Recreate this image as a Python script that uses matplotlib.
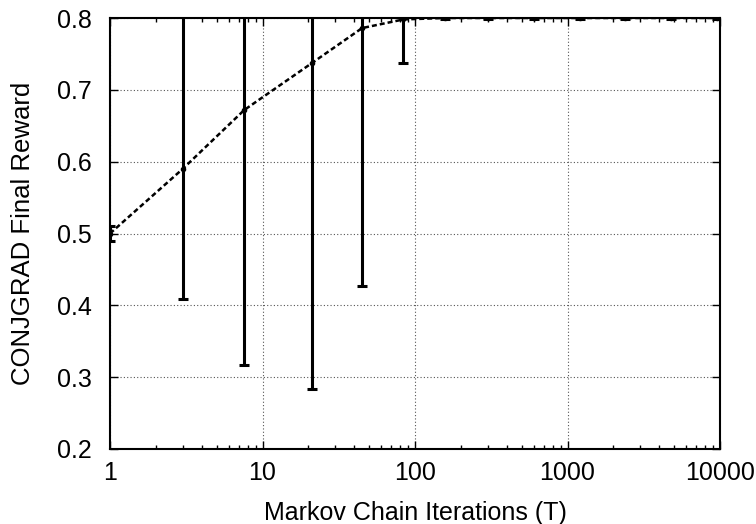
import matplotlib
matplotlib.use("Agg")
import matplotlib.pyplot as plt
from matplotlib.ticker import LogLocator, NullFormatter

plt.rcParams['font.family'] = ['Liberation Sans', 'DejaVu Sans']

iterations = [1, 3, 7.6, 21, 45, 84, 157, 303, 606, 1210, 2400, 4800, 9600]
reward_mean = [0.500, 0.590, 0.672, 0.737, 0.786, 0.798, 0.800, 0.800, 0.800, 0.800, 0.800, 0.800, 0.800]
reward_low = [0.490, 0.409, 0.317, 0.283, 0.427, 0.738, 0.798, 0.798, 0.798, 0.798, 0.798, 0.798, 0.798]
reward_high = [0.510, 0.900, 0.900, 0.900, 0.900, 0.810, 0.802, 0.802, 0.802, 0.802, 0.802, 0.802, 0.802]

yerr = [[m - lo for m, lo in zip(reward_mean, reward_low)],
        [hi - m for m, hi in zip(reward_mean, reward_high)]]

fig = plt.figure(figsize=(7.56, 5.24), dpi=100)
ax = fig.add_axes([110 / 756, 1 - 449 / 524, 610 / 756, 431 / 524])

ax.plot(iterations, reward_mean, color='black', linestyle=(0, (2.0, 1.2)), linewidth=1.8, zorder=3)
ax.errorbar(iterations, reward_mean, yerr=yerr, fmt='none', ecolor='black',
            elinewidth=2.2, capsize=3.6, capthick=2.2, zorder=4)
# small dots where the points sit
ax.plot(iterations, reward_mean, linestyle='none', marker='o', markersize=3, color='black', zorder=5)

ax.set_xscale('log')
ax.set_xlim(1, 10000)
ax.set_ylim(0.2, 0.8)
ax.set_xticks([1, 10, 100, 1000, 10000])
ax.set_xticklabels(['1', '10', '100', '1000', '10000'])
ax.xaxis.set_minor_locator(LogLocator(base=10, subs=range(2, 10)))
ax.xaxis.set_minor_formatter(NullFormatter())
ax.set_yticks([0.2, 0.3, 0.4, 0.5, 0.6, 0.7, 0.8])
ax.set_yticklabels(['0.2', '0.3', '0.4', '0.5', '0.6', '0.7', '0.8'])

ax.grid(True, which='major', color='#555555', linestyle=(0, (1, 2)), linewidth=0.8)
ax.tick_params(which='both', direction='in', top=True, right=True, labelsize=18)
ax.tick_params(axis='x', pad=9)
ax.tick_params(axis='y', pad=13)
ax.tick_params(which='major', length=6, width=1)
ax.tick_params(which='minor', length=3, width=1)
for s in ax.spines.values():
    s.set_linewidth(1.5)

ax.set_xlabel('Markov Chain Iterations (T)', fontsize=18, labelpad=11)
ax.set_ylabel('CONJGRAD Final Reward', fontsize=18.5, labelpad=16)

fig.savefig('out.png', dpi=100)
